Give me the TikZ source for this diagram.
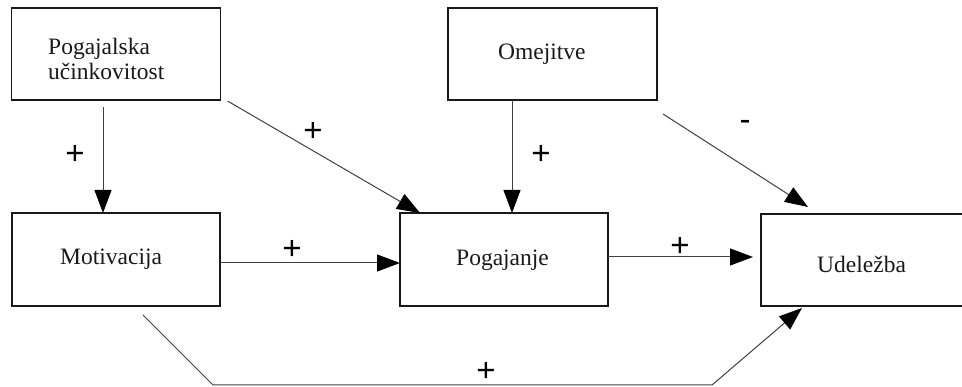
\documentclass[tikz,border=0pt]{standalone}
\usepackage{fontspec}
\setmainfont{Liberation Serif}
\newfontfamily\signfont{Liberation Sans}
\usetikzlibrary{arrows.meta,calc}
\tikzset{
  box/.style={draw=black!90, line width=1.3pt, minimum width=209pt, minimum height=92pt, inner sep=0pt, outer sep=0pt},
  txt/.style={anchor=base west, inner sep=0pt, font=\fontsize{23.5pt}{26pt}\selectfont, text=black!90},
  sign/.style={inner sep=0pt, text=black, font=\signfont\fontsize{33pt}{33pt}\selectfont},
  conn/.style={draw=black!75, line width=1pt},
  arr/.style={conn, -{Triangle[width=17pt,length=23pt,color=black,fill=black]}},
}
\begin{document}
\begin{tikzpicture}[x=1pt,y=-1pt]
\useasboundingbox (0,0) rectangle (962,387);
% boxes
\node[box] (puc) at (116,54) {};
\node[box] (ome) at (552.5,54) {};
\node[box, minimum width=208pt, minimum height=93pt] (mot) at (116,259.5) {};
\node[box, minimum width=208pt, minimum height=93pt] (pog) at (504,259.5) {};
\node[box, minimum width=220pt] (ude) at (871,260) {};
% texts
\node[txt] (t1a) at (48,55) {Pogajalska};
\node[txt] (t1b) at (48,80) {učinkovitost};
\node[txt] (t2) at (498,60) {Omejitve};
\node[txt] (t3) at (60,265) {Motivacija};
\node[txt] (t4) at (456,266) {Pogajanje};
\node[txt] (t5) at (817,272.5) {Udeležba};
% connectors
\draw[arr] ([xshift=-13pt,yshift=-7pt]puc.south) -- ([xshift=-13pt]mot.north);
\draw[arr] ([xshift=7pt,yshift=-1pt]puc.south east) -- ([xshift=20pt]pog.north west);
\draw[arr] ([xshift=-40.5pt]ome.south) -- ([xshift=-40.5pt]ome.south |- pog.north);
\draw[arr] ([xshift=6pt,yshift=-14pt]ome.south east) -- ([xshift=47pt,yshift=7pt]ude.north west);
\draw[arr] ([yshift=-3.5pt]mot.east) -- ([yshift=-3.5pt]mot.east -| pog.west);
\draw[arr] ([yshift=2.5pt]pog.east) -- ([xshift=-8pt,yshift=2.5pt]pog.east -| ude.west);
\coordinate (b1) at (213,385);
\coordinate (b2) at (712,385);
\draw[arr] ([xshift=27pt,yshift=-9pt]mot.south) -- (b1) -- (b2) -- ([xshift=41pt,yshift=-2pt]ude.south west);
% signs
\node[sign] (s1) at (75,155) {+};
\node[sign] (s2) at (313,132) {+};
\node[sign] (s3) at (541,155) {+};
\node[sign] (s4) at (745,125) {-};
\node[sign] (s5) at (292,250) {+};
\node[sign] (s6) at (680,247) {+};
\node[sign] (s7) at (486,372) {+};
\end{tikzpicture}
\end{document}
